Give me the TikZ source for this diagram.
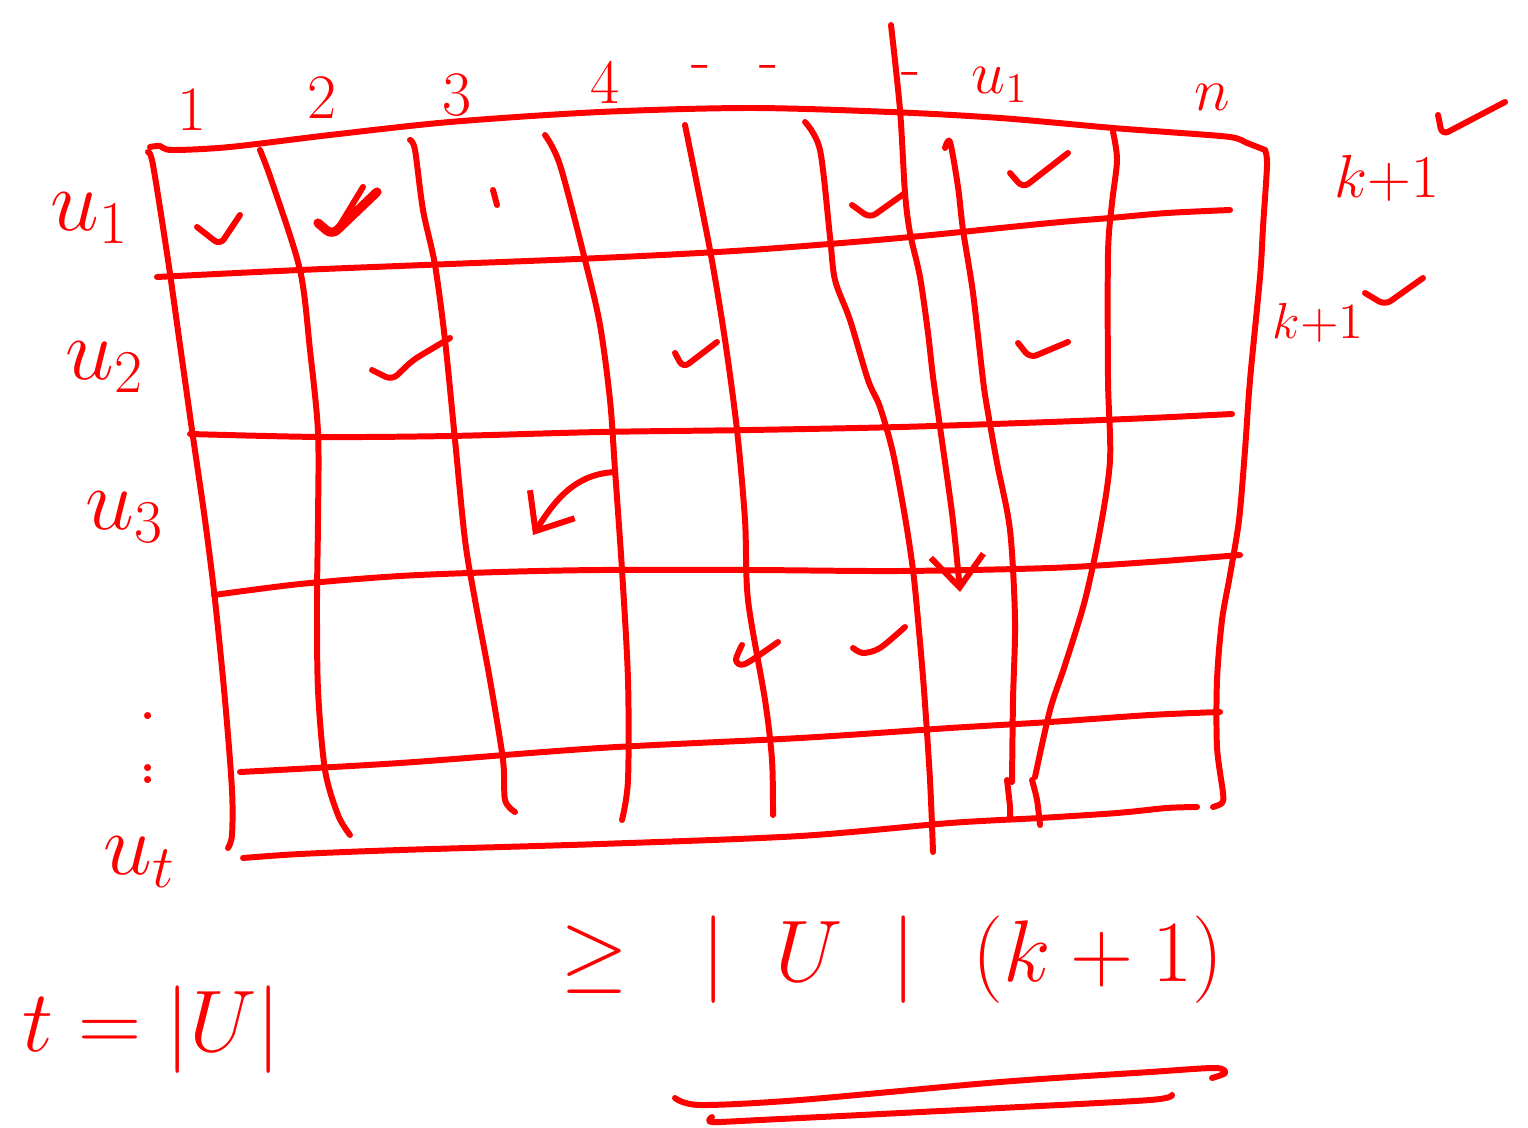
\documentclass[tikz,border=0pt]{standalone}
\usepackage{tikz}
\usetikzlibrary{arrows.meta}
\definecolor{ink}{RGB}{255,0,0}
\tikzset{
  pen/.style={draw=ink, line width=1.7pt, line cap=round, line join=round},
  boldpen/.style={pen, line width=2.6pt},
  tickpen/.style={pen, rounded corners=2pt},
  head/.style={pen, -{Straight Barb[length=9pt,width=15pt]}},
  lbl/.style={text=ink, inner sep=0pt},
  colhead/.style={lbl, font=\fontsize{18}{20}\selectfont},
  rowhead/.style={lbl, font=\fontsize{24}{28}\selectfont},
  sidehead/.style={lbl, font=\fontsize{17}{20}\selectfont},
  formula/.style={lbl, font=\fontsize{36}{40}\selectfont}
}
\begin{document}
\begin{tikzpicture}[x=0.01cm, y=-0.01cm]
\useasboundingbox (0,0) rectangle (1528,1128);

% frame of the table
\draw[pen] plot[smooth] coordinates {(150,147) (160,146) (172,150) (230,147) (330,135) (450,122) (600,112) (750,108) (890,112) (1000,118) (1113,128) (1167,132) (1230,137) (1247,143) (1265,150)};
\draw[pen] plot[smooth] coordinates {(1265,150) (1267,165) (1263,227) (1260,277) (1250,380) (1245,450) (1239,520) (1230,575) (1222,620) (1217,680) (1217,747) (1223,793) (1222,803) (1213,807)};
\draw[pen] plot[smooth] coordinates {(148,152) (153,165) (168,260) (180,345) (192,430) (205,520) (215,600) (225,700) (232,790) (232,835) (228,848)};

% rows
\draw[pen] plot[smooth] coordinates {(157,277) (300,270) (450,264) (600,258) (750,250) (900,238) (1050,223) (1110,218) (1167,213) (1230,210)};
\draw[pen] plot[smooth] coordinates {(190,434) (320,437) (450,436) (600,432) (750,430) (900,427) (1050,422) (1150,418) (1232,414)};
\draw[pen] plot[smooth] coordinates {(214,595) (300,584) (400,576) (500,572) (600,570) (750,570) (900,571) (1050,568) (1150,562) (1240,555)};
\draw[pen] plot[smooth] coordinates {(240,772) (400,763) (600,748) (800,738) (950,728) (1050,722) (1150,715) (1220,712)};
\draw[pen] plot[smooth] coordinates {(243,858) (300,854) (400,850) (600,844) (800,836) (950,823) (1040,818) (1117,813) (1167,808) (1197,807)};

% columns
\draw[pen] plot[smooth] coordinates {(260,150) (272,182) (300,270) (310,350) (318,432) (318,520) (317,600) (318,690) (325,770) (338,815) (350,835)};
\draw[pen] plot[smooth] coordinates {(410,140) (415,150) (423,210) (435,265) (445,340) (455,440) (465,540) (475,600) (490,680) (503,760) (505,800) (515,812)};
\draw[pen] plot[smooth] coordinates {(545,135) (560,165) (585,260) (600,325) (610,400) (615,470) (622,570) (628,680) (628,780) (622,820)};
\draw[pen] plot[smooth] coordinates {(685,125) (710,250) (725,340) (737,430) (745,520) (748,600) (765,700) (772,760) (773,815)};
\draw[pen] plot[smooth] coordinates {(805,122) (820,150) (830,237) (835,280) (850,320) (868,380) (880,407) (893,453) (905,517) (913,570) (918,620) (924,690) (930,780) (933,852)};
\draw[pen] plot[smooth] coordinates {(945,148) (950,142) (958,187) (963,230) (973,293) (983,380) (987,407) (997,463) (1010,530) (1015,620) (1013,700) (1012,782)};
\draw[pen] plot[smooth] coordinates {(1007,780) (1010,807) (1010,817)};
\draw[pen] plot[smooth] coordinates {(1113,132) (1117,160) (1112,203) (1108,253) (1108,380) (1110,460) (1100,530) (1085,600) (1065,665) (1050,710) (1035,777)};
\draw[pen] plot[smooth] coordinates {(1032,780) (1037,800) (1040,825)};

% the long column that drops down
\coordinate (dropend) at (960,592);
\draw[head] plot[smooth] coordinates {(891,25) (900,110) (905,193) (910,233) (920,277) (928,333) (933,377) (940,427) (952,513) (958,570) (dropend)};

% curved arrow in row 3
\coordinate (arcfrom) at (615,472);
\coordinate (arcto) at (533,535);
\draw[head] (arcfrom) .. controls (575,474) and (555,500) .. (arcto);

% ticks
\draw[tickpen] (197,227) -- (220,245) -- (240,215);
\draw[boldpen, rounded corners=2pt] (318,223) -- (332,235) -- (377,192);
\draw[pen] (363,187) -- (337,230);
\draw[pen] (493,190) -- (497,205);
\draw[tickpen] (852,205) -- (870,218) -- (905,193);
\draw[tickpen] (1010,173) -- (1023,188) -- (1068,153);
\draw[tickpen] (372,370) -- (392,380) -- (413,360) -- (450,338);
\draw[tickpen] (675,353) -- (683,368) -- (717,342);
\draw[tickpen] (1018,343) -- (1030,358) -- (1068,342);
\draw[pen] plot[smooth] coordinates {(742,645) (736,660) (745,664) (778,642)};
\draw[pen] plot[smooth] coordinates {(853,648) (863,653) (880,648) (905,627)};
\draw[tickpen] (1438,115) -- (1442,135) -- (1505,102);
\draw[tickpen] (1365,293) -- (1385,305) -- (1423,278);

% column labels
\node[colhead] (col1) at (192,110) {1};
\node[colhead] (col2) at (322,98) {2};
\node[colhead] (col3) at (457,95) {3};
\node[colhead] (col4) at (605,82) {4};
\node[colhead] (coldots) at (735,73) {-\hspace{14pt}-};
\node[colhead] (coldash) at (911,80) {-};
\node[colhead] (colu) at (1000,85) {$u_1$};
\node[colhead] (coln) at (1212,97) {$n$};

% row labels
\node[rowhead] (row1) at (90,218) {$u_1$};
\node[rowhead] (row2) at (105,367) {$u_2$};
\node[rowhead] (row3) at (125,517) {$u_3$};
\node[rowhead] (rowdots) at (148,748) {\vbox{\offinterlineskip\hbox{.}\kern13pt\hbox{.}\kern1.5pt\hbox{.}}};
\node[rowhead] (rowt) at (140,862) {$u_t$};

% right side
\node[sidehead] (kone) at (1387,178) {$k{+}1$};
\node[sidehead, font=\fontsize{15}{18}\selectfont] (ktwo) at (1318,323) {$k{+}1$};

% below
\node[lbl, font=\fontsize{24}{28}\selectfont] (tdef) at (152,1030) {$t=|U|$};
\node[formula] (bound) at (892,960) {$\geq\hspace{14pt}|\hspace{14pt}U\hspace{14pt}|\hspace{16pt}(k+1)$};
\draw[pen] plot[smooth] coordinates {(675,1098) (700,1105) (800,1100) (1000,1082) (1150,1072) (1215,1068) (1225,1073) (1212,1078)};
\draw[pen] plot[smooth] coordinates {(712,1117) (712,1122) (760,1120) (1000,1108) (1150,1100) (1172,1095)};
\end{tikzpicture}
\end{document}
